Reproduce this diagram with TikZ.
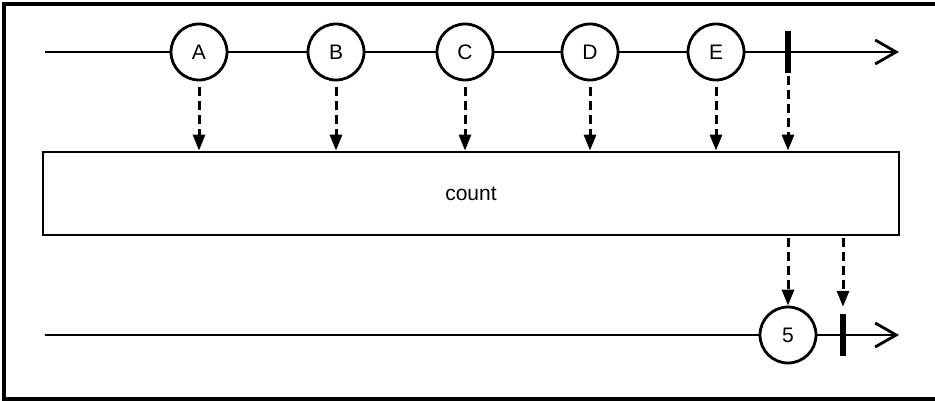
\documentclass[tikz,border=0pt]{standalone}
\usepackage{fontspec}
\setmainfont{Liberation Sans}
\usetikzlibrary{arrows.meta,positioning}
\begin{document}
\begin{tikzpicture}[x=1pt,y=1pt]
    \tikzstyle{every node}=[font=\fontsize{21}{25}\selectfont]
    \tikzstyle{event} = [circle, draw, line width=2.8pt, fill=white, minimum size=56pt, inner sep=0pt]
    \tikzstyle{finish} = [rectangle, fill=black, minimum width=6pt, minimum height=42pt, inner sep=0pt]
    \tikzstyle{operator} = [rectangle, draw, line width=2.8pt, fill=white, minimum width=856pt, minimum height=83pt]
    \tikzstyle{axis} = [line width=2.8pt, -{Straight Barb[length=21pt,width=24pt,line width=2.8pt]}]
    \tikzstyle{feed} = [line width=3pt, dash pattern=on 9pt off 5pt, -{Triangle[length=16pt,width=12pt]}]
    \useasboundingbox (0,0) rectangle (935,401);
    % frame
    \draw[line width=3.5pt] (940,397) -- (4,397) -- (4,2) -- (940,2);
    % source
    \coordinate (in start) at (45,349);
    \coordinate (in end) at (899,349);
        \draw[axis] (in start) -- (in end);
        \node (a) [event] at (199,349) {A};
        \node (b) [event] at (336,349) {B};
        \node (c) [event] at (465,349) {C};
        \node (d) [event] at (590,349) {D};
        \node (e) [event] at (716,349) {E};
        \node (in done) [finish] at (788,349) {};
    % operator
        \node (box) [operator] at (471,207.5) {count};
    % result
    \coordinate (out start) at (45,66);
    \coordinate (out end) at (899,66);
        \draw[axis] (out start) -- (out end);
        \node (five) [event] at (788,66) {5};
        \node (out done) [finish] at (843,66) {};
    % arrows
        \draw[feed, shorten <=6pt] (a) -- (a |- box.north);
        \draw[feed, shorten <=6pt] (b) -- (b |- box.north);
        \draw[feed, shorten <=6pt] (c) -- (c |- box.north);
        \draw[feed, shorten <=6pt] (d) -- (d |- box.north);
        \draw[feed, shorten <=6pt] (e) -- (e |- box.north);
        \draw[feed, shorten <=3pt] (in done) -- (in done |- box.north);
        \draw[feed, shorten <=2pt] (box.south -| five) -- (five);
        \draw[feed, shorten <=2pt, shorten >=7pt] (box.south -| out done) -- (out done);
\end{tikzpicture}
\end{document}
